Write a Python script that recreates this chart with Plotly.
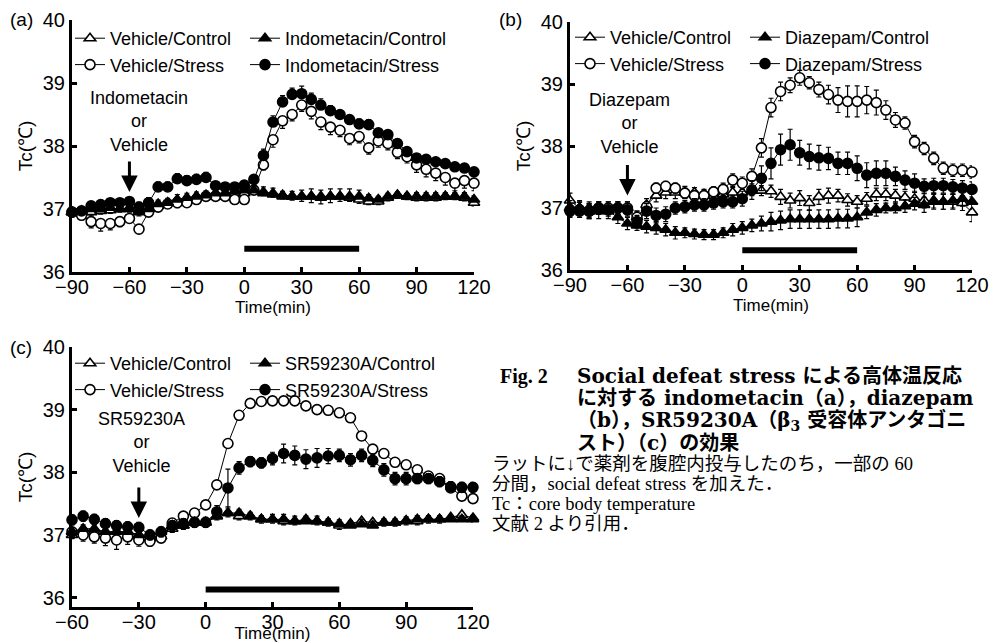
import plotly.graph_objects as go

# ---------------- data ----------------
T_AB = [-90, -85, -80, -75, -70, -65, -60, -55, -50, -45, -40, -35, -30, -25, -20, -15, -10, -5,
        0, 5, 10, 15, 20, 25, 30, 35, 40, 45, 50, 55, 60, 65, 70, 75, 80, 85, 90, 95, 100, 105, 110, 115, 120]
T_C = [-60, -55, -50, -45, -40, -35, -30, -25, -20, -15, -10, -5,
       0, 5, 10, 15, 20, 25, 30, 35, 40, 45, 50, 55, 60, 65, 70, 75, 80, 85, 90, 95, 100, 105, 110, 115, 120]

# panel (a)
A_VEH_CTRL = [36.95, 36.95, 36.95, 36.97, 36.98, 37.0, 37.0, 36.95, 37.0, 37.05, 37.1, 37.12, 37.15, 37.2, 37.2, 37.2, 37.22, 37.25,
              37.25, 37.3, 37.27, 37.25, 37.22, 37.2, 37.2, 37.2, 37.2, 37.2, 37.2, 37.18, 37.15, 37.12, 37.12, 37.18, 37.22, 37.2, 37.18, 37.18, 37.18, 37.2, 37.2, 37.18, 37.1]
A_DRUG_CTRL = [36.95, 36.97, 37.0, 37.0, 37.02, 37.0, 37.02, 36.97, 37.0, 37.08, 37.1, 37.15, 37.18, 37.2, 37.22, 37.25, 37.25, 37.28,
               37.3, 37.3, 37.25, 37.23, 37.2, 37.2, 37.2, 37.2, 37.18, 37.2, 37.2, 37.2, 37.2, 37.17, 37.15, 37.2, 37.22, 37.2, 37.2, 37.2, 37.2, 37.2, 37.2, 37.2, 37.15]
A_VEH_STRESS = [36.95, 36.9, 36.8, 36.77, 36.77, 36.8, 36.85, 36.68, 36.95, 37.03, 37.08, 37.1, 37.1, 37.15, 37.2, 37.2, 37.2, 37.15,
                37.15, 37.3, 37.7, 38.1, 38.4, 38.5, 38.65, 38.55, 38.38, 38.3, 38.25, 38.12, 38.15, 37.97, 38.08, 38.04, 37.9, 37.83, 37.7, 37.63, 37.57, 37.5, 37.41, 37.45, 37.41]
A_DRUG_STRESS = [36.95, 36.97, 37.05, 37.07, 37.1, 37.1, 37.12, 37.03, 37.1, 37.35, 37.35, 37.48, 37.45, 37.47, 37.5, 37.37, 37.35, 37.35,
                 37.38, 37.47, 37.85, 38.38, 38.7, 38.82, 38.83, 38.74, 38.65, 38.56, 38.5, 38.42, 38.35, 38.34, 38.21, 38.18, 38.04, 37.91, 37.81, 37.79, 37.75, 37.72, 37.67, 37.65, 37.59]
A_VEH_CTRL_ERR = [0.05, 0.05, 0.06, 0.05, 0.05, 0.05, 0.05, 0.06, 0.06, 0.06, 0.06, 0.07, 0.07, 0.06, 0.06, 0.06, 0.06, 0.06,
                  0.06, 0.06, 0.06, 0.06, 0.06, 0.06, 0.08, 0.1, 0.12, 0.1, 0.08, 0.06, 0.06, 0.05, 0.05, 0.05, 0.05, 0.05, 0.05, 0.05, 0.05, 0.05, 0.05, 0.05, 0.05]
A_DRUG_CTRL_ERR = [0.05, 0.05, 0.05, 0.06, 0.06, 0.05, 0.05, 0.05, 0.06, 0.06, 0.07, 0.08, 0.07, 0.07, 0.07, 0.07, 0.06, 0.06,
                   0.07, 0.07, 0.1, 0.1, 0.08, 0.08, 0.1, 0.12, 0.12, 0.12, 0.12, 0.12, 0.1, 0.06, 0.05, 0.05, 0.05, 0.05, 0.06, 0.06, 0.06, 0.06, 0.06, 0.06, 0.06]
A_VEH_STRESS_ERR = [0.05, 0.06, 0.1, 0.12, 0.1, 0.08, 0.06, 0.06, 0.06, 0.06, 0.06, 0.08, 0.06, 0.06, 0.05, 0.05, 0.05, 0.05,
                    0.05, 0.06, 0.08, 0.12, 0.12, 0.1, 0.1, 0.12, 0.12, 0.12, 0.1, 0.1, 0.1, 0.1, 0.1, 0.1, 0.1, 0.1, 0.12, 0.12, 0.12, 0.12, 0.12, 0.12, 0.12]
A_DRUG_STRESS_ERR = [0.05, 0.05, 0.06, 0.06, 0.06, 0.06, 0.06, 0.08, 0.08, 0.08, 0.08, 0.08, 0.08, 0.08, 0.08, 0.06, 0.06, 0.06,
                     0.06, 0.06, 0.1, 0.1, 0.1, 0.1, 0.12, 0.1, 0.1, 0.08, 0.06, 0.06, 0.08, 0.08, 0.06, 0.06, 0.06, 0.06, 0.06, 0.06, 0.06, 0.06, 0.06, 0.06, 0.06]

# panel (b)
B_VEH_CTRL = [37.12, 37.0, 37.0, 37.0, 37.0, 37.0, 37.0, 36.85, 37.05, 37.2, 37.25, 37.25, 37.25, 37.25, 37.22, 37.2, 37.22, 37.25,
              37.25, 37.28, 37.28, 37.27, 37.18, 37.12, 37.16, 37.08, 37.18, 37.2, 37.2, 37.13, 37.1, 37.15, 37.22, 37.22, 37.2, 37.17, 37.15, 37.12, 37.12, 37.1, 37.1, 37.08, 36.93]
B_DRUG_CTRL = [37.0, 37.0, 36.95, 36.95, 36.95, 36.85, 36.75, 36.72, 36.7, 36.68, 36.65, 36.6, 36.6, 36.58, 36.57, 36.57, 36.6, 36.65,
               36.68, 36.72, 36.75, 36.78, 36.8, 36.82, 36.82, 36.82, 36.82, 36.82, 36.83, 36.83, 36.85, 36.93, 36.97, 37.0, 37.0, 37.03, 37.07, 37.05, 37.1, 37.1, 37.12, 37.15, 37.1]
B_VEH_STRESS = [36.95, 36.97, 36.95, 37.0, 37.0, 37.0, 37.0, 36.85, 37.02, 37.32, 37.35, 37.32, 37.24, 37.2, 37.2, 37.26, 37.3, 37.45,
                37.4, 37.51, 37.97, 38.62, 38.88, 38.98, 39.1, 39.02, 38.91, 38.83, 38.74, 38.72, 38.72, 38.74, 38.7, 38.58, 38.42, 38.37, 38.07, 37.96, 37.8, 37.64, 37.61, 37.61, 37.58]
B_DRUG_STRESS = [36.97, 36.95, 36.95, 37.0, 36.97, 37.0, 36.97, 36.78, 36.95, 36.88, 36.9, 37.0, 37.02, 37.05, 37.05, 37.08, 37.1, 37.1,
                 37.15, 37.29, 37.48, 37.72, 37.94, 38.02, 37.89, 37.83, 37.81, 37.8, 37.72, 37.72, 37.64, 37.53, 37.56, 37.56, 37.51, 37.45, 37.4, 37.35, 37.36, 37.36, 37.34, 37.32, 37.3]
B_VEH_CTRL_ERR = [0.12, 0.1, 0.1, 0.1, 0.1, 0.1, 0.1, 0.1, 0.1, 0.1, 0.1, 0.1, 0.1, 0.08, 0.08, 0.08, 0.08, 0.08,
                  0.08, 0.08, 0.08, 0.1, 0.12, 0.12, 0.12, 0.12, 0.12, 0.12, 0.1, 0.1, 0.1, 0.1, 0.1, 0.1, 0.1, 0.1, 0.12, 0.12, 0.12, 0.12, 0.12, 0.12, 0.15]
B_DRUG_CTRL_ERR = [0.12, 0.12, 0.12, 0.12, 0.12, 0.1, 0.1, 0.08, 0.1, 0.1, 0.1, 0.1, 0.08, 0.08, 0.08, 0.08, 0.08, 0.1,
                   0.1, 0.1, 0.12, 0.15, 0.15, 0.15, 0.15, 0.15, 0.15, 0.15, 0.15, 0.15, 0.15, 0.1, 0.1, 0.08, 0.08, 0.1, 0.1, 0.12, 0.12, 0.12, 0.12, 0.12, 0.12]
B_VEH_STRESS_ERR = [0.1, 0.12, 0.12, 0.1, 0.1, 0.1, 0.1, 0.1, 0.08, 0.08, 0.08, 0.08, 0.08, 0.08, 0.08, 0.08, 0.1, 0.1,
                    0.1, 0.12, 0.15, 0.15, 0.15, 0.12, 0.12, 0.1, 0.12, 0.15, 0.2, 0.25, 0.25, 0.22, 0.2, 0.15, 0.12, 0.1, 0.1, 0.1, 0.1, 0.1, 0.1, 0.1, 0.1]
B_DRUG_STRESS_ERR = [0.1, 0.1, 0.1, 0.1, 0.1, 0.1, 0.1, 0.1, 0.12, 0.12, 0.12, 0.1, 0.1, 0.1, 0.1, 0.1, 0.1, 0.1,
                     0.12, 0.15, 0.2, 0.25, 0.25, 0.25, 0.2, 0.2, 0.2, 0.18, 0.18, 0.18, 0.2, 0.2, 0.2, 0.2, 0.15, 0.15, 0.15, 0.12, 0.12, 0.12, 0.12, 0.12, 0.12]

# panel (c)
C_VEH_CTRL = [37.0, 37.05, 37.05, 37.05, 37.05, 37.05, 37.0, 36.95, 36.98, 37.1, 37.15, 37.2,
              37.2, 37.3, 37.35, 37.3, 37.3, 37.25, 37.25, 37.22, 37.22, 37.25, 37.22, 37.2, 37.15, 37.18, 37.22, 37.2, 37.2, 37.2, 37.22, 37.22, 37.25, 37.25, 37.28, 37.32, 37.27]
C_DRUG_CTRL = [37.05, 37.1, 37.1, 37.05, 37.05, 37.05, 37.0, 37.0, 37.05, 37.15, 37.15, 37.2,
               37.2, 37.3, 37.35, 37.35, 37.3, 37.25, 37.25, 37.25, 37.22, 37.22, 37.22, 37.2, 37.18, 37.15, 37.17, 37.15, 37.2, 37.2, 37.23, 37.25, 37.25, 37.25, 37.25, 37.25, 37.25]
C_VEH_STRESS = [37.05, 37.0, 36.97, 36.95, 36.92, 36.97, 36.92, 36.9, 36.95, 37.19, 37.3, 37.35,
                37.48, 37.8, 38.46, 38.91, 39.1, 39.13, 39.14, 39.14, 39.14, 39.06, 39.0, 38.99, 38.95, 38.87, 38.58, 38.37, 38.3, 38.16, 38.12, 38.04, 37.94, 37.9, 37.75, 37.62, 37.58]
C_DRUG_STRESS = [37.24, 37.3, 37.25, 37.18, 37.15, 37.13, 37.12, 37.0, 37.05, 37.15, 37.18, 37.2,
                 37.2, 37.37, 37.75, 38.07, 38.17, 38.15, 38.22, 38.3, 38.27, 38.21, 38.23, 38.26, 38.27, 38.2, 38.27, 38.19, 38.04, 37.9, 37.9, 37.9, 37.9, 37.85, 37.77, 37.76, 37.76]
C_VEH_CTRL_ERR = [0.06, 0.06, 0.06, 0.06, 0.06, 0.06, 0.06, 0.06, 0.06, 0.06, 0.06, 0.06,
                  0.06, 0.06, 0.06, 0.06, 0.06, 0.06, 0.06, 0.06, 0.06, 0.06, 0.06, 0.06, 0.06, 0.06, 0.06, 0.06, 0.06, 0.06, 0.06, 0.06, 0.06, 0.06, 0.06, 0.06, 0.06]
C_DRUG_CTRL_ERR = [0.06, 0.06, 0.06, 0.06, 0.06, 0.06, 0.06, 0.06, 0.06, 0.06, 0.06, 0.06,
                   0.06, 0.08, 0.08, 0.06, 0.06, 0.06, 0.08, 0.08, 0.08, 0.08, 0.08, 0.06, 0.06, 0.08, 0.08, 0.06, 0.06, 0.06, 0.06, 0.06, 0.06, 0.06, 0.06, 0.06, 0.06]
C_VEH_STRESS_ERR = [0.1, 0.1, 0.1, 0.12, 0.15, 0.12, 0.1, 0.08, 0.06, 0.05, 0.05, 0.05,
                    0.05, 0.05, 0.05, 0.05, 0.04, 0.04, 0.04, 0.04, 0.04, 0.04, 0.04, 0.04, 0.06, 0.06, 0.05, 0.05, 0.05, 0.05, 0.05, 0.05, 0.05, 0.05, 0.05, 0.05, 0.05]
C_DRUG_STRESS_ERR = [0.08, 0.08, 0.08, 0.08, 0.08, 0.08, 0.08, 0.08, 0.08, 0.08, 0.08, 0.08,
                     0.08, 0.1, 0.3, 0.1, 0.08, 0.08, 0.1, 0.15, 0.15, 0.15, 0.15, 0.12, 0.1, 0.1, 0.1, 0.1, 0.1, 0.1, 0.1, 0.08, 0.08, 0.08, 0.08, 0.08, 0.08]

X_TICKS_AB = [-90, -60, -30, 0, 30, 60, 90, 120]
X_TICKS_C = [-60, -30, 0, 30, 60, 90, 120]
Y_TICKS = [36, 37, 38, 39, 40]
STRESS_PERIOD = [0, 60]
INJECTION_TIME = {"a": -60, "b": -60, "c": -30}

SANS = "Liberation Sans, Arial, sans-serif"
BLACK = "black"

fig = go.Figure()


def add_series(x, y, err, name, symbol, filled, xa, ya, legend, direction):
    n = len(err)
    if direction == "up":
        ey = dict(type="data", symmetric=False, array=err, arrayminus=[0] * n)
    elif direction == "down":
        ey = dict(type="data", symmetric=False, array=[0] * n, arrayminus=err)
    else:
        ey = dict(type="data", symmetric=True, array=err)
    ey.update(color=BLACK, thickness=1.2, width=2.5)
    fig.add_trace(go.Scatter(
        x=x, y=y, name=name, mode="lines+markers", xaxis=xa, yaxis=ya, legend=legend,
        line=dict(color=BLACK, width=1),
        marker=dict(symbol=symbol, size=10,
                    color=BLACK if filled else "white", line=dict(color=BLACK, width=1.6)),
        error_y=ey, cliponaxis=False))


# (a)
add_series(T_AB, A_VEH_CTRL, A_VEH_CTRL_ERR, "Vehicle/Control", "triangle-up", False, "x", "y", "legend", "down")
add_series(T_AB, A_VEH_STRESS, A_VEH_STRESS_ERR, "Vehicle/Stress", "circle", False, "x", "y", "legend", "down")
add_series(T_AB, A_DRUG_CTRL, A_DRUG_CTRL_ERR, "Indometacin/Control", "triangle-up", True, "x", "y", "legend2", "up")
add_series(T_AB, A_DRUG_STRESS, A_DRUG_STRESS_ERR, "Indometacin/Stress", "circle", True, "x", "y", "legend2", "up")
# (b)
add_series(T_AB, B_VEH_CTRL, B_VEH_CTRL_ERR, "Vehicle/Control", "triangle-up", False, "x2", "y2", "legend3", "both")
add_series(T_AB, B_VEH_STRESS, B_VEH_STRESS_ERR, "Vehicle/Stress", "circle", False, "x2", "y2", "legend3", "both")
add_series(T_AB, B_DRUG_CTRL, B_DRUG_CTRL_ERR, "Diazepam/Control", "triangle-up", True, "x2", "y2", "legend4", "both")
add_series(T_AB, B_DRUG_STRESS, B_DRUG_STRESS_ERR, "Diazepam/Stress", "circle", True, "x2", "y2", "legend4", "both")
# (c)
add_series(T_C, C_VEH_CTRL, C_VEH_CTRL_ERR, "Vehicle/Control", "triangle-up", False, "x3", "y3", "legend5", "down")
add_series(T_C, C_VEH_STRESS, C_VEH_STRESS_ERR, "Vehicle/Stress", "circle", False, "x3", "y3", "legend5", "down")
add_series(T_C, C_DRUG_CTRL, C_DRUG_CTRL_ERR, "SR59230A/Control", "triangle-up", True, "x3", "y3", "legend6", "up")
add_series(T_C, C_DRUG_STRESS, C_DRUG_STRESS_ERR, "SR59230A/Stress", "circle", True, "x3", "y3", "legend6", "both")

W, H = 995, 643


def px_x(a, b):
    return [a / W, b / W]


def px_y(top, bottom):
    return [1 - bottom / H, 1 - top / H]


def xaxis(domain, rng, ticks, anchor):
    return dict(domain=domain, range=rng, tickvals=ticks, anchor=anchor, automargin=False,
                showline=True, linewidth=3, linecolor=BLACK, ticks="inside", ticklen=5, tickwidth=3,
                tickcolor=BLACK, showgrid=False, zeroline=False, ticklabelstandoff=-5,
                tickfont=dict(family=SANS, size=20, color=BLACK),
                title=dict(text="Time(min)", font=dict(family=SANS, size=17, color=BLACK), standoff=1))


def yaxis(domain, rng, anchor):
    return dict(domain=domain, range=rng, tickvals=Y_TICKS, anchor=anchor, automargin=False,
                showline=True, linewidth=3, linecolor=BLACK, ticks="inside", ticklen=5, tickwidth=3,
                tickcolor=BLACK, showgrid=False, zeroline=False,
                tickfont=dict(family=SANS, size=20, color=BLACK),
                title=dict(text="Tc(℃)", font=dict(family=SANS, size=19, color=BLACK), standoff=6))


def legend(xpx, ypx):
    return dict(x=xpx / W, y=1 - ypx / H, xanchor="left", yanchor="top", orientation="v",
                bgcolor="rgba(0,0,0,0)", itemwidth=30, tracegroupgap=0,
                font=dict(family=SANS, size=18, color=BLACK))


fig.update_layout(
    width=W, height=H, margin=dict(l=0, r=0, t=0, b=0, autoexpand=False),
    paper_bgcolor="white", plot_bgcolor="white",
    xaxis=xaxis(px_x(72, 474), [-90, 120], X_TICKS_AB, "y"),
    yaxis=yaxis(px_y(20, 272), [36, 40], "x"),
    xaxis2=xaxis(px_x(570, 972), [-90, 120], X_TICKS_AB, "y2"),
    yaxis2=yaxis(px_y(22, 270), [36, 40], "x2"),
    xaxis3=xaxis(px_x(72, 473), [-60, 120], X_TICKS_C, "y3"),
    yaxis3=yaxis(px_y(347, 607), [35.85, 40], "x3"),
    legend=legend(70, 20), legend2=legend(245, 20),
    legend3=legend(570, 19), legend4=legend(745, 19),
    legend5=legend(70, 345), legend6=legend(245, 345),
)

# stress bars
STRESS_LEVEL = {"a": 36.37, "b": 36.32, "c": 36.13}
for key, xr, yr in [("a", "x", "y"), ("b", "x2", "y2"), ("c", "x3", "y3")]:
    fig.add_shape(type="line", xref=xr, yref=yr, x0=STRESS_PERIOD[0], x1=STRESS_PERIOD[1],
                  y0=STRESS_LEVEL[key], y1=STRESS_LEVEL[key], line=dict(color=BLACK, width=6))

# drug labels + arrows
DRUG_LABEL = {"a": "Indometacin", "b": "Diazepam", "c": "SR59230A"}
LABEL_POS = {"a": (-55, 38.39), "b": (-59, 38.37), "c": (-29, 38.47)}
ARROW_TIP = {"a": 37.27, "b": 37.2, "c": 37.27}
for key, xr, yr in [("a", "x", "y"), ("b", "x2", "y2"), ("c", "x3", "y3")]:
    lx, ly = LABEL_POS[key]
    fig.add_annotation(xref=xr, yref=yr, x=lx, y=ly, text=f"{DRUG_LABEL[key]}<br>or<br>Vehicle",
                       showarrow=False, align="center", font=dict(family=SANS, size=18, color=BLACK))
    fig.add_annotation(xref=xr, yref=yr, x=INJECTION_TIME[key], y=ARROW_TIP[key], text="",
                       showarrow=True, ax=0, ay=-32, arrowhead=2, arrowsize=1.1, arrowwidth=3,
                       arrowcolor=BLACK)

# panel letters
for lab, xp, yp in [("(a)", 8, 20), ("(b)", 497, 20), ("(c)", 8, 347)]:
    fig.add_annotation(xref="paper", yref="paper", x=xp / W, y=1 - yp / H, text=lab,
                       xanchor="left", yanchor="middle", showarrow=False,
                       font=dict(family=SANS, size=19, color=BLACK))

# caption
CAP_FONT = "DejaVu Serif, Noto Sans CJK JP, serif"
fig.add_annotation(xref="paper", yref="paper", x=498 / W, y=1 - 376 / H, text="<b>Fig. 2</b>",
                   xanchor="left", yanchor="middle", showarrow=False,
                   font=dict(family="Liberation Serif, serif", size=20, color=BLACK))
CAPTION_TITLE = ["Social defeat stress による高体温反応",
                 "に対する indometacin（a），diazepam",
                 "（b），SR59230A（β<sub>3</sub> 受容体アンタゴニ",
                 "スト）（c）の効果"]
TITLE_Y = [376, 398, 421, 443]
for line, ty in zip(CAPTION_TITLE, TITLE_Y):
    fig.add_annotation(xref="paper", yref="paper", x=575 / W, y=1 - ty / H, text=f"<b>{line}</b>",
                       xanchor="left", yanchor="middle", showarrow=False,
                       font=dict(family=CAP_FONT, size=20, color=BLACK))
CAPTION_BODY = ["ラットに↓で薬剤を腹腔内投与したのち，一部の 60",
                "分間，social defeat stress を加えた．",
                "Tc：core body temperature",
                "文献 2 より引用．"]
for i, line in enumerate(CAPTION_BODY):
    fig.add_annotation(xref="paper", yref="paper", x=490 / W, y=1 - (464 + 20 * i) / H, text=line,
                       xanchor="left", yanchor="middle", showarrow=False,
                       font=dict(family="Liberation Serif, Noto Sans CJK JP, serif", size=18.5, color=BLACK))

fig.write_html("out.html")
